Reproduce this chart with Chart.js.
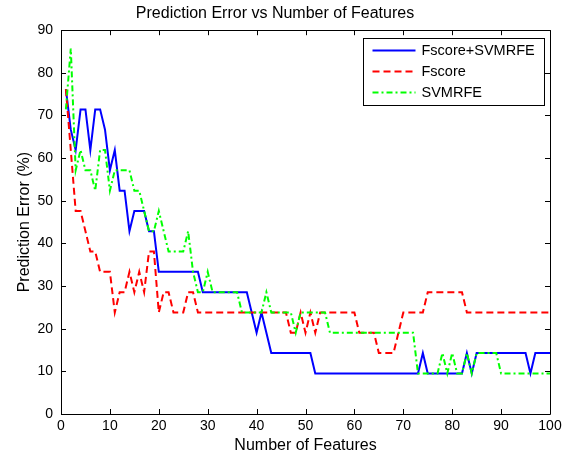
<!DOCTYPE html>
<html>
<head>
<meta charset="utf-8">
<script src="https://cdn.jsdelivr.net/npm/chart.js@4.4.1/dist/chart.umd.min.js"></script>
<style>
    html, body { margin: 0; padding: 0; background: #fff; }
</style>
</head>
<body>
<canvas id="errorChart" width="574" height="459"></canvas>
<script>
// number of selected features (x axis)
const features = Array.from({ length: 100 }, (_, i) => i + 1);

const fscoreSvmrfe = [
    76.19, 66.67, 61.90, 71.43, 71.43, 61.90, 71.43, 71.43, 66.67, 57.14,
    61.90, 52.38, 52.38, 42.86, 47.62, 47.62, 47.62, 42.86, 42.86, 33.33,
    33.33, 33.33, 33.33, 33.33, 33.33, 33.33, 33.33, 33.33, 28.57, 28.57,
    28.57, 28.57, 28.57, 28.57, 28.57, 28.57, 28.57, 28.57, 23.81, 19.05,
    23.81, 19.05, 14.29, 14.29, 14.29, 14.29, 14.29, 14.29, 14.29, 14.29,
    14.29, 9.52, 9.52, 9.52, 9.52, 9.52, 9.52, 9.52, 9.52, 9.52,
    9.52, 9.52, 9.52, 9.52, 9.52, 9.52, 9.52, 9.52, 9.52, 9.52,
    9.52, 9.52, 9.52, 14.29, 9.52, 9.52, 9.52, 9.52, 9.52, 9.52,
    9.52, 9.52, 14.29, 9.52, 14.29, 14.29, 14.29, 14.29, 14.29, 14.29,
    14.29, 14.29, 14.29, 14.29, 14.29, 9.52, 14.29, 14.29, 14.29, 14.29
];

const fscore = [
    76.19, 61.90, 47.62, 47.62, 42.86, 38.10, 38.10, 33.33, 33.33, 33.33,
    23.81, 28.57, 28.57, 33.33, 28.57, 33.33, 28.57, 38.10, 38.10, 23.81,
    28.57, 28.57, 23.81, 23.81, 23.81, 28.57, 28.57, 23.81, 23.81, 23.81,
    23.81, 23.81, 23.81, 23.81, 23.81, 23.81, 23.81, 23.81, 23.81, 23.81,
    23.81, 23.81, 23.81, 23.81, 23.81, 23.81, 19.05, 19.05, 23.81, 19.05,
    23.81, 19.05, 23.81, 23.81, 23.81, 23.81, 23.81, 23.81, 23.81, 23.81,
    19.05, 19.05, 19.05, 19.05, 14.29, 14.29, 14.29, 14.29, 19.05, 23.81,
    23.81, 23.81, 23.81, 23.81, 28.57, 28.57, 28.57, 28.57, 28.57, 28.57,
    28.57, 28.57, 23.81, 23.81, 23.81, 23.81, 23.81, 23.81, 23.81, 23.81,
    23.81, 23.81, 23.81, 23.81, 23.81, 23.81, 23.81, 23.81, 23.81, 23.81
];

const svmrfe = [
    71.43, 85.71, 57.14, 61.90, 57.14, 57.14, 52.38, 61.90, 61.90, 52.38,
    57.14, 57.14, 57.14, 57.14, 52.38, 52.38, 47.62, 42.86, 42.86, 47.62,
    42.86, 38.10, 38.10, 38.10, 38.10, 42.86, 33.33, 28.57, 28.57, 33.33,
    28.57, 28.57, 28.57, 28.57, 28.57, 28.57, 23.81, 23.81, 23.81, 23.81,
    23.81, 28.57, 23.81, 23.81, 23.81, 23.81, 23.81, 19.05, 23.81, 23.81,
    23.81, 23.81, 23.81, 23.81, 19.05, 19.05, 19.05, 19.05, 19.05, 19.05,
    19.05, 19.05, 19.05, 19.05, 19.05, 19.05, 19.05, 19.05, 19.05, 19.05,
    19.05, 19.05, 9.52, 9.52, 9.52, 9.52, 9.52, 14.29, 9.52, 14.29,
    9.52, 9.52, 14.29, 9.52, 14.29, 14.29, 14.29, 14.29, 14.29, 9.52,
    9.52, 9.52, 9.52, 9.52, 9.52, 9.52, 9.52, 9.52, 9.52, 9.52
];

const xTicks = [0, 10, 20, 30, 40, 50, 60, 70, 80, 90, 100];
const yTicks = [0, 10, 20, 30, 40, 50, 60, 70, 80, 90];

const FONT = "'Liberation Sans', Arial, sans-serif";

const toPoints = vals => vals.map((v, i) => ({ x: features[i], y: v }));

// matlab style box, inward ticks and a boxed legend inside the axes
const matlabFrame = {
    id: "matlabFrame",
    afterDraw(chart) {
        const { ctx, chartArea: a, scales: { x, y } } = chart;
        const len = 5;
        ctx.save();
        ctx.strokeStyle = "#000";
        ctx.lineWidth = 1;
        ctx.beginPath();
        ctx.rect(Math.round(a.left) + 0.5, Math.round(a.top) + 0.5,
            Math.round(a.right - a.left), Math.round(a.bottom - a.top));
        xTicks.forEach(v => {
            const px = Math.round(x.getPixelForValue(v)) + 0.5;
            ctx.moveTo(px, a.bottom); ctx.lineTo(px, a.bottom - len);
            ctx.moveTo(px, a.top); ctx.lineTo(px, a.top + len);
        });
        yTicks.forEach(v => {
            const py = Math.round(y.getPixelForValue(v)) + 0.5;
            ctx.moveTo(a.left, py); ctx.lineTo(a.left + len, py);
            ctx.moveTo(a.right, py); ctx.lineTo(a.right - len, py);
        });
        ctx.stroke();

        // legend
        const bx = Math.round(a.right) - 186.5, by = Math.round(a.top) + 8.5;
        ctx.fillStyle = "#fff";
        ctx.fillRect(bx, by, 181, 67);
        ctx.strokeRect(bx, by, 181, 67);
        ctx.font = "14.5px " + FONT;
        ctx.textBaseline = "middle";
        chart.data.datasets.forEach((ds, i) => {
            const ry = by + 12 + i * 21;
            ctx.strokeStyle = ds.borderColor;
            ctx.lineWidth = 2;
            ctx.setLineDash(ds.borderDash || []);
            ctx.beginPath();
            ctx.moveTo(bx + 9, ry);
            ctx.lineTo(bx + 52, ry);
            ctx.stroke();
            ctx.setLineDash([]);
            ctx.fillStyle = "#000";
            ctx.fillText(ds.label, bx + 58, ry);
        });
        ctx.restore();
    }
};

new Chart(document.getElementById("errorChart"), {
    type: "line",
    data: {
        datasets: [{
            label: "Fscore+SVMRFE",
            data: toPoints(fscoreSvmrfe),
            borderColor: "#0000ff",
            borderWidth: 2,
            order: 3
        }, {
            label: "Fscore",
            data: toPoints(fscore),
            borderColor: "#ff0000",
            borderWidth: 2,
            borderDash: [7, 4],
            order: 2
        }, {
            label: "SVMRFE",
            data: toPoints(svmrfe),
            borderColor: "#00ff00",
            borderWidth: 2,
            borderDash: [6, 3, 2, 3],
            order: 1
        }]
    },
    options: {
        responsive: false,
        animation: false,
        layout: { padding: { left: 0, right: 24, top: 0, bottom: 0 } },
        elements: {
            point: { radius: 0 },
            line: { tension: 0 }
        },
        plugins: {
            legend: { display: false },
            tooltip: { enabled: false },
            title: {
                display: true,
                text: "Prediction Error vs Number of Features",
                color: "#000",
                font: { family: FONT, size: 16, weight: "normal" },
                padding: { top: 4, bottom: 7 }
            }
        },
        scales: {
            x: {
                type: "linear",
                min: 0,
                max: 100,
                afterBuildTicks: s => { s.ticks = xTicks.map(v => ({ value: v })); },
                afterFit: s => { s.height = 45; },
                grid: { display: false, drawTicks: false },
                border: { display: false },
                ticks: { color: "#000", padding: 4, font: { family: FONT, size: 14 } },
                title: {
                    display: true,
                    text: "Number of Features",
                    color: "#000",
                    font: { family: FONT, size: 16 },
                    padding: { top: 0, bottom: 4 }
                }
            },
            y: {
                min: 0,
                max: 90,
                afterBuildTicks: s => { s.ticks = yTicks.map(v => ({ value: v })); },
                afterFit: s => { s.width = 61; },
                grid: { display: false, drawTicks: false },
                border: { display: false },
                ticks: { color: "#000", padding: 8, font: { family: FONT, size: 14 } },
                title: {
                    display: true,
                    text: "Prediction Error (%)",
                    color: "#000",
                    font: { family: FONT, size: 16 },
                    padding: { top: 15, bottom: 0 }
                }
            }
        }
    },
    plugins: [matlabFrame]
});
</script>
</body>
</html>
